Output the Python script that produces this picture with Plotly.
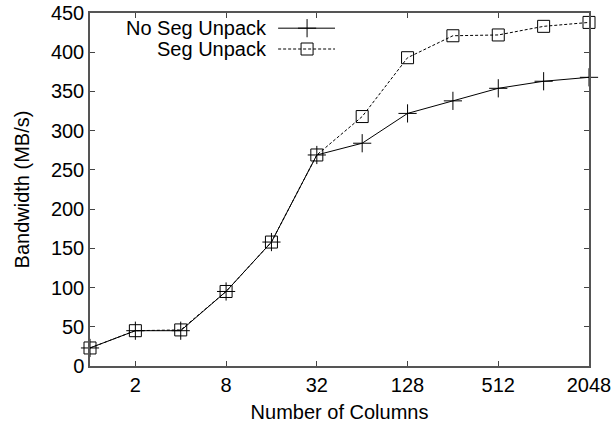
import math
import plotly.graph_objects as go

columns = [1, 2, 4, 8, 16, 32, 64, 128, 256, 512, 1024, 2048]
no_seg_unpack = [23, 45, 45, 95, 158, 269, 284, 322, 338, 354, 363, 368]
seg_unpack = [23, 45, 46, 95, 158, 269, 318, 393, 421, 422, 433, 438]
x_ticks = [2, 8, 32, 128, 512, 2048]
y_ticks = list(range(0, 451, 50))

FONT = "Liberation Sans, Arial, sans-serif"
FS = 20

fig = go.Figure()
fig.add_trace(go.Scatter(
    x=columns, y=no_seg_unpack, mode="lines+markers", name="No Seg Unpack",
    line=dict(color="black", width=1),
    marker=dict(symbol="cross-thin-open", size=13, color="black", line=dict(color="black", width=1)),
    showlegend=False, cliponaxis=False))
fig.add_trace(go.Scatter(
    x=columns, y=seg_unpack, mode="lines+markers", name="Seg Unpack",
    line=dict(color="black", width=1, dash="3px,2px"),
    marker=dict(symbol="square-open", size=12, color="black", line=dict(color="black", width=1)),
    showlegend=False, cliponaxis=False))

# custom legend (gnuplot style: text left of sample) on an overlay axis
fig.add_trace(go.Scatter(x=[0.377, 0.491], y=[0.957, 0.957], mode="lines", xaxis="x2", yaxis="y2",
                         line=dict(color="black", width=1), showlegend=False, hoverinfo="skip"))
fig.add_trace(go.Scatter(x=[0.435], y=[0.957], mode="markers", xaxis="x2", yaxis="y2",
                         marker=dict(symbol="cross-thin-open", size=13, color="black", line=dict(color="black", width=1)),
                         showlegend=False, hoverinfo="skip"))
fig.add_trace(go.Scatter(x=[0.377, 0.491], y=[0.898, 0.898], mode="lines", xaxis="x2", yaxis="y2",
                         line=dict(color="black", width=1, dash="3px,2px"), showlegend=False, hoverinfo="skip"))
fig.add_trace(go.Scatter(x=[0.435], y=[0.898], mode="markers", xaxis="x2", yaxis="y2",
                         marker=dict(symbol="square-open", size=12, color="black", line=dict(color="black", width=1)),
                         showlegend=False, hoverinfo="skip"))
fig.add_annotation(x=0.353, y=0.957, xref="x2", yref="y2", text="No Seg Unpack", showarrow=False,
                   xanchor="right", yanchor="middle", xshift=3, font=dict(family=FONT, size=FS, color="black"))
fig.add_annotation(x=0.353, y=0.898, xref="x2", yref="y2", text="Seg Unpack", showarrow=False,
                   xanchor="right", yanchor="middle", xshift=3, font=dict(family=FONT, size=FS, color="black"))

fig.update_layout(
    width=613, height=430,
    margin=dict(l=90, r=24, t=13, b=64, autoexpand=False),
    plot_bgcolor="white", paper_bgcolor="white",
    font=dict(family=FONT, size=FS, color="black"),
    xaxis=dict(type="log", range=[0, math.log10(2048) + 1e-6], tickvals=x_ticks, ticktext=[str(v) for v in x_ticks],
               ticks="inside", ticklen=5, tickcolor="#444", showline=True, linecolor="#555", linewidth=1.5,
               mirror="ticks", showgrid=False, zeroline=False, automargin=False,
               title=dict(text="Number of Columns", font=dict(size=FS), standoff=10),
               tickfont=dict(size=FS)),
    yaxis=dict(range=[0, 450], tickvals=y_ticks, ticks="inside", ticklen=5, tickcolor="#444",
               showline=True, linecolor="#555", linewidth=1.5, mirror="ticks", showgrid=False, zeroline=False,
               automargin=False,
               title=dict(text="Bandwidth (MB/s)", font=dict(size=FS), standoff=16),
               tickfont=dict(size=FS)),
    xaxis2=dict(overlaying="x", range=[0, 1], visible=False),
    yaxis2=dict(overlaying="y", range=[0, 1], visible=False),
)

fig.write_html("out.html")
